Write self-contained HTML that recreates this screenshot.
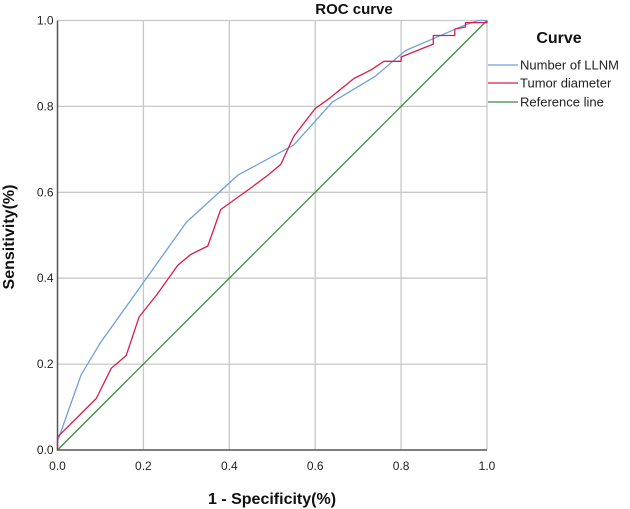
<!DOCTYPE html>
<html><head><meta charset="utf-8"><style>
html,body{margin:0;padding:0;background:#fff;}
svg{display:block;font-family:"Liberation Sans",Arial,sans-serif;}
</style></head><body>
<svg id="chart" width="630" height="509" viewBox="0 0 630 509">
<g id="grid"></g>
<g id="axes"></g>
<g id="series"></g>
<text x="354" y="14" font-size="15" font-weight="bold" text-anchor="middle" fill="#111">ROC curve</text>
<text x="272" y="504" font-size="16" font-weight="bold" text-anchor="middle" fill="#111">1 - Specificity(%)</text>
<text transform="translate(14,237) rotate(-90)" font-size="16" font-weight="bold" text-anchor="middle" fill="#111">Sensitivity(%)</text>
<g>
<text x="559" y="43" font-size="16" font-weight="bold" text-anchor="middle" fill="#111">Curve</text>
<g><line x1="488" y1="65" x2="518" y2="65" stroke="#6fa0e0" stroke-width="1.2"/><text x="520" y="69.5" font-size="13" fill="#222">Number of LLNM</text></g>
<g><line x1="488" y1="83" x2="518" y2="83" stroke="#d81e48" stroke-width="1.2"/><text x="520" y="87.5" font-size="13" fill="#222">Tumor diameter</text></g>
<g><line x1="488" y1="102" x2="518" y2="102" stroke="#3b8a3b" stroke-width="1.2"/><text x="520" y="106.5" font-size="13" fill="#222">Reference line</text></g>
</g>
</svg>
<script>
const ticks = [0, 0.2, 0.4, 0.6, 0.8, 1.0];
const tickLabels = ["0.0", "0.2", "0.4", "0.6", "0.8", "1.0"];
const llnmX = [0, 0.055, 0.1, 0.2, 0.3, 0.42, 0.55, 0.64, 0.74, 0.81, 0.88, 0.95, 0.98, 1];
const llnmY = [0.02, 0.175, 0.25, 0.39, 0.53, 0.64, 0.71, 0.81, 0.87, 0.93, 0.96, 0.99, 1.0, 1.0];
const tumorX = [0, 0, 0.09, 0.125, 0.16, 0.19, 0.23, 0.28, 0.31, 0.35, 0.38, 0.45, 0.49, 0.52, 0.55, 0.6, 0.635, 0.69, 0.73, 0.76, 0.8, 0.8, 0.85, 0.875, 0.875, 0.925, 0.925, 0.95, 0.95, 1, 1];
const tumorY = [0, 0.03, 0.12, 0.19, 0.22, 0.31, 0.36, 0.43, 0.455, 0.475, 0.56, 0.61, 0.64, 0.665, 0.73, 0.795, 0.82, 0.865, 0.885, 0.905, 0.905, 0.915, 0.935, 0.945, 0.965, 0.965, 0.98, 0.985, 0.995, 0.995, 1];
const refX = [0, 1];
const refY = [0, 1];

const X0 = 57.5, X1 = 487, Y0 = 450, Y1 = 20.5;
const sx = v => X0 + v * (X1 - X0);
const sy = v => Y0 - v * (Y0 - Y1);
const NS = "http://www.w3.org/2000/svg";
function mk(tag, attrs, parent) {
  const e = document.createElementNS(NS, tag);
  for (const k in attrs) e.setAttribute(k, attrs[k]);
  parent.appendChild(e);
  return e;
}
const grid = document.getElementById('grid');
const axes = document.getElementById('axes');
const series = document.getElementById('series');
ticks.forEach((t, i) => {
  if (t > 0) {
    const gv = mk('line', {x1: sx(t), y1: Y0, x2: sx(t), y2: Y1, stroke: '#c8c8c8', 'stroke-width': 1.3}, grid);
    
    
    const gh = mk('line', {x1: X0, y1: sy(t), x2: X1, y2: sy(t), stroke: '#c8c8c8', 'stroke-width': 1.3}, grid);
    
    
  }
  const tx = mk('text', {x: sx(t), y: Y0 + 20, 'font-size': 12, 'text-anchor': 'middle', fill: '#222'}, axes);
  tx.textContent = tickLabels[i];
  
  
  const ty = mk('text', {x: X0 - 4, y: sy(t) + 4, 'font-size': 12, 'text-anchor': 'end', fill: '#222'}, axes);
  ty.textContent = tickLabels[i];
  
  
});
const ax = mk('path', {d: `M${X0},${Y1} L${X0},${Y0} L${X1},${Y0}`, fill: 'none', stroke: '#555', 'stroke-width': 1.5}, axes);


function line(xs, ys, color, name) {
  const d = xs.map((x, i) => (i ? 'L' : 'M') + sx(x).toFixed(1) + ',' + sy(ys[i]).toFixed(1)).join(' ');
  const p = mk('path', {d: d, fill: 'none', stroke: color, 'stroke-width': 1.3, 'stroke-linejoin': 'round'}, series);
  
  
}
line(refX, refY, '#3b8a3b', 'reference-line');
line(llnmX, llnmY, '#6fa0e0', 'llnm-curve');
line(tumorX, tumorY, '#d81e48', 'tumor-diameter-curve');
</script>
</body></html>
